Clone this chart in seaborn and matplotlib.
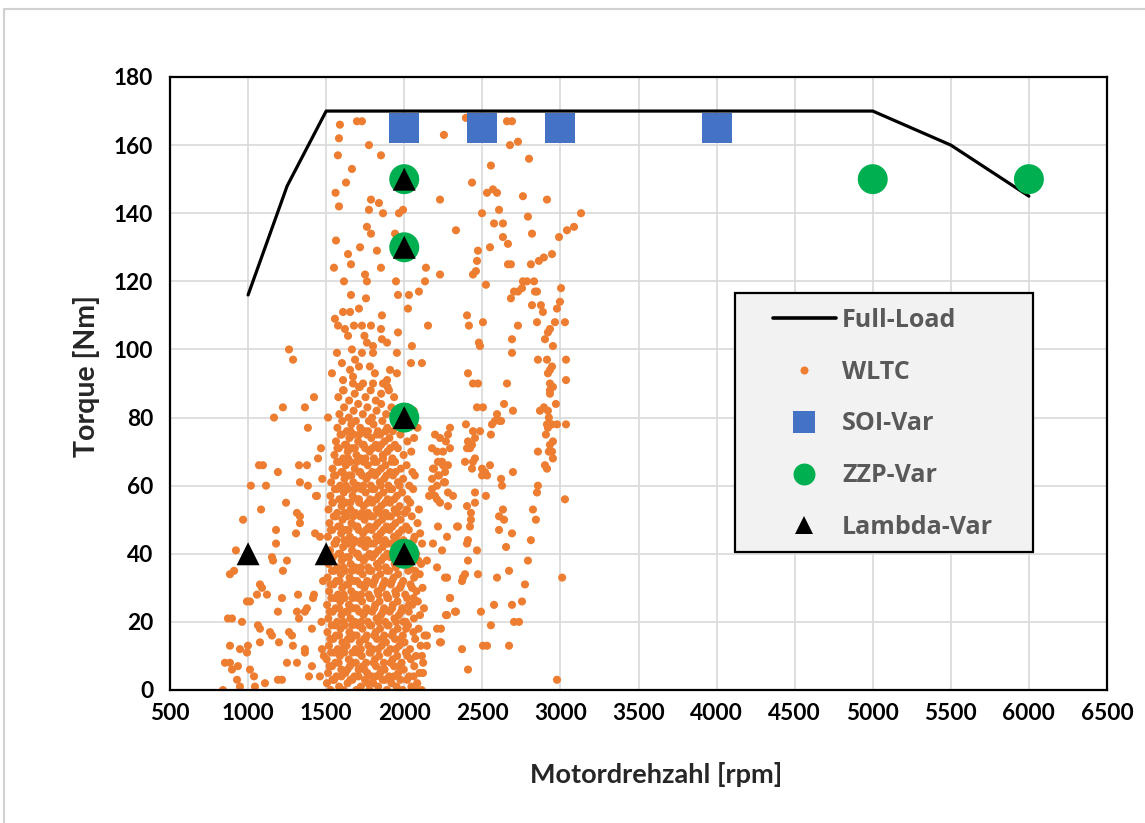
import matplotlib
matplotlib.use("Agg")
import matplotlib.pyplot as plt
from matplotlib.lines import Line2D
from matplotlib.patches import Rectangle
import pandas as pd
import seaborn as sns

# Full-load torque curve
fullload_rpm = [1000, 1250, 1500, 5000, 5500, 6000]
fullload_nm = [116, 148, 170, 170, 160, 145]

# Variation points
soi_rpm = [2000, 2500, 3000, 4000]
soi_nm = [165, 165, 165, 165]
zzp_rpm = [2000, 2000, 2000, 2000, 5000, 6000]
zzp_nm = [150, 130, 80, 40, 150, 150]
lambda_rpm = [2000, 2000, 2000, 2000, 1000, 1500]
lambda_nm = [150, 130, 80, 40, 40, 40]

# WLTC operating points (rpm, Nm), grouped by area of the map
wltc_high = [
    (1588, 166), (1697, 167), (1729, 167), (1582, 162), (1774, 160), (1851, 157),
    (1665, 153), (1627, 149), (1582, 142), (1787, 144), (1774, 141), (1838, 143),
    (1864, 140), (1966, 140), (1992, 141), (2229, 144), (2254, 163), (2331, 135),
    (1563, 132), (1761, 136), (1787, 134), (1717, 130), (1640, 128), (1825, 129),
    (1550, 124), (1659, 125), (1749, 122), (1761, 120), (1851, 124), (1947, 120),
    (2139, 124), (2229, 122), (2133, 120), (2094, 117), (2030, 116), (1960, 116),
    (1659, 116), (1755, 115), (1614, 120), (1941, 134), (1575, 157), (1560, 146),
]

wltc_right = [
    (2395, 168), (2658, 167), (2690, 167), (2728, 161), (2677, 160), (2799, 156),
    (2555, 154), (2434, 149), (2530, 146), (2568, 147), (2594, 146), (2760, 145),
    (2914, 144), (2498, 140), (2607, 141), (2792, 139), (3132, 140), (2575, 137),
    (2632, 137), (2818, 134), (2991, 133), (3042, 135), (3087, 136), (2632, 133),
    (2664, 131), (2472, 129), (2549, 130), (2466, 126), (2664, 125), (2683, 125),
    (2811, 125), (2862, 126), (2894, 127), (2946, 128), (2459, 123), (2440, 122),
    (2523, 119), (2760, 120), (2786, 120), (2831, 120), (2754, 118), (2728, 117),
    (2703, 117), (2683, 115), (2850, 117), (2837, 117), (2818, 113), (3004, 118),
    (2997, 114), (2978, 112), (2875, 113), (2888, 111), (2402, 110), (2414, 107),
    (2504, 108), (2728, 107), (2850, 108), (2965, 108), (3029, 108), (2933, 106),
    (2920, 105), (2901, 103), (2478, 102), (2485, 101), (2690, 103), (2690, 99),
    (2952, 101), (2856, 97), (2914, 97), (2946, 95), (2933, 94), (2920, 93),
    (3036, 97), (3036, 91), (2408, 93), (2440, 90), (2472, 90), (2658, 90),
    (2933, 90), (2952, 89), (2933, 88), (2933, 87), (2466, 83), (2504, 83),
    (2639, 84), (2594, 81), (2613, 79), (2696, 82), (2869, 82), (2894, 83),
    (2920, 82), (2926, 80), (2971, 84), (2914, 78), (2946, 78), (2978, 78),
    (3036, 78), (2907, 75), (2920, 77), (2952, 73), (2933, 72), (2946, 70),
    (2926, 70), (2856, 70), (2952, 68), (2901, 66), (2914, 65), (2293, 77),
    (2395, 78), (2440, 76), (2485, 76), (2453, 74), (2562, 78), (2581, 79),
    (2620, 79), (2555, 75), (2408, 73), (2402, 71), (2434, 72), (2421, 71),
    (2453, 68), (2440, 67), (2389, 67), (2434, 65), (2498, 65), (2517, 64),
    (2549, 66), (2498, 63), (2530, 63), (2696, 64), (2620, 62), (2626, 60),
    (2856, 60), (2850, 58), (3029, 56), (2453, 58), (2523, 57), (2402, 54),
    (2453, 55), (2427, 52), (2427, 50), (2421, 48), (2402, 43), (2408, 44),
    (2344, 48), (2632, 53), (2607, 51), (2639, 50), (2607, 47), (2690, 46),
    (2824, 53), (2843, 50), (2811, 44), (2652, 42), (2466, 41), (2408, 38),
    (2792, 38), (2274, 33), (2376, 33), (2370, 32), (2389, 34), (2472, 34),
    (2594, 33), (2671, 35), (2773, 31), (3011, 33), (2293, 27), (2331, 23),
    (2267, 22), (2491, 23), (2575, 25), (2690, 25), (2754, 26), (2703, 20),
    (2735, 20), (2555, 19), (2504, 13), (2530, 13), (2671, 13), (2370, 12),
    (2408, 6), (2978, 3), (2235, 14), (2235, 18),
]

wltc_mid = [
    (2197, 75), (2229, 74), (2280, 75), (2178, 71), (2210, 70), (2242, 67),
    (2280, 66), (2191, 65), (2223, 63), (2254, 61), (2178, 59), (2197, 57),
    (2229, 55), (2159, 57), (2280, 58), (2152, 107), (2267, 73), (2293, 71),
    (2248, 70), (2216, 67), (2248, 66), (2184, 65), (2216, 63), (2261, 64),
    (2261, 61), (2178, 62), (2210, 60), (2010, 20), (2030, 25), (2050, 30),
    (2070, 35), (2090, 38), (2145, 38), (2210, 36), (2261, 33), (2293, 27),
    (2274, 22), (2325, 23), (2210, 18), (2145, 16), (2145, 13), (2229, 14),
    (2113, 10), (2120, 5), (2082, 0), (2338, 48), (2280, 54), (2210, 56),
    (2312, 57), (2216, 48), (2274, 45), (2184, 43), (2242, 41), (2113, 96),
    (2043, 96), (2049, 101), (2024, 112), (1953, 99), (1960, 105),
]

wltc_left = [
    (1262, 100), (1288, 97), (1422, 86), (1223, 83), (1364, 83), (1166, 80),
    (1383, 77), (1467, 71), (1070, 66), (1095, 66), (1191, 64), (1326, 66),
    (1377, 66), (1448, 68), (1018, 60), (1115, 60), (1332, 61), (1383, 60),
    (1441, 57), (1243, 55), (1083, 53), (968, 50), (1313, 52), (1332, 51),
    (1332, 49), (1435, 57), (1179, 47), (1307, 46), (1429, 46), (1179, 43),
    (922, 41), (1153, 39), (1160, 38), (1249, 38), (884, 34), (910, 35),
    (1223, 35), (1076, 31), (1089, 30), (1121, 28), (1057, 28), (993, 26),
    (1012, 26), (1217, 27), (1320, 28), (1377, 24), (1422, 28), (1313, 23),
    (1326, 21), (1191, 23), (871, 21), (897, 21), (961, 20), (1063, 19),
    (1076, 18), (1140, 17), (1153, 16), (1262, 17), (1281, 16), (1409, 18),
    (884, 13), (948, 12), (999, 13), (993, 11), (1076, 14), (1198, 14),
    (1287, 13), (1364, 11), (852, 8), (884, 8), (897, 6), (935, 7),
    (1012, 6), (1038, 4), (1108, 2), (1191, 3), (1217, 3), (1249, 8),
    (1313, 8), (929, 3), (948, 1), (839, 0), (1044, 1), (1409, 7),
    (1390, 4), (1364, 23), (1416, 27), (1364, 12), (1480, 32), (1473, 12),
    (1460, 4), (1460, 45), (1475, 62), (1485, 10), (1470, 20), (1512, 80),
    (1537, 93),
]

wltc_core_low = [
    (1505, 2), (1528, 0), (1551, 3), (1583, 1), (1612, 0), (1637, 2), (1668, 3),
    (1694, 0), (1722, 1), (1749, 3), (1777, 0), (1801, 2), (1833, 1), (1862, 3),
    (1889, 0), (1918, 2), (1951, 1), (1990, 0), (2018, 3), (2046, 1), (2083, 2),
    (2112, 0),
    (1512, 5), (1538, 7), (1566, 4), (1597, 6), (1623, 5), (1652, 7), (1681, 4),
    (1708, 6), (1736, 7), (1763, 5), (1792, 4), (1819, 7), (1846, 5), (1874, 6),
    (1903, 4), (1934, 7), (1962, 5), (1997, 6), (2031, 4), (2064, 7), (2098, 5),
    (1503, 9), (1531, 11), (1559, 8), (1588, 10), (1616, 11), (1645, 9), (1673, 8),
    (1699, 11), (1728, 10), (1756, 8), (1785, 11), (1812, 9), (1840, 10), (1869, 8),
    (1897, 11), (1926, 9), (1955, 10), (1983, 8), (2010, 11), (2042, 9), (2075, 10),
    (2121, 8),
    (1518, 13), (1546, 15), (1574, 12), (1604, 14), (1631, 13), (1660, 15),
    (1688, 12), (1715, 14), (1743, 15), (1771, 13), (1798, 12), (1826, 15),
    (1855, 13), (1883, 14), (1911, 12), (1940, 15), (1968, 13), (2002, 14),
    (2037, 12), (2070, 15), (2105, 13),
    (1508, 17), (1535, 19), (1563, 16), (1592, 18), (1620, 19), (1649, 17),
    (1677, 16), (1704, 19), (1732, 18), (1760, 16), (1789, 19), (1817, 17),
    (1845, 18), (1872, 16), (1900, 19), (1929, 17), (1958, 18), (1991, 16),
    (2024, 19), (2058, 17), (2092, 18), (2130, 16),
    (1514, 21), (1542, 23), (1570, 20), (1598, 22), (1627, 23), (1655, 21),
    (1684, 20), (1711, 23), (1739, 22), (1767, 20), (1795, 23), (1823, 21),
    (1851, 22), (1879, 20), (1907, 23), (1937, 21), (1966, 22), (1995, 20),
    (2029, 23), (2062, 21), (2101, 22),
    (1506, 25), (1533, 27), (1561, 24), (1590, 26), (1618, 27), (1646, 25),
    (1675, 24), (1702, 27), (1730, 26), (1758, 24), (1786, 27), (1814, 25),
    (1842, 26), (1871, 24), (1898, 27), (1927, 25), (1957, 26), (1987, 24),
    (2019, 27), (2051, 25), (2087, 26), (2126, 24),
    (1519, 29), (1547, 31), (1576, 28), (1603, 30), (1633, 31), (1661, 29),
    (1690, 28), (1717, 31), (1745, 30), (1773, 28), (1801, 31), (1829, 29),
    (1857, 30), (1886, 28), (1914, 31), (1943, 29), (1972, 30), (2006, 28),
    (2040, 31), (2078, 29), (2117, 30),
]

wltc_core_mid = [
    (1509, 33), (1537, 35), (1565, 32), (1594, 34), (1622, 35), (1650, 33),
    (1679, 32), (1706, 35), (1734, 34), (1762, 32), (1790, 35), (1818, 33),
    (1847, 34), (1875, 32), (1903, 35), (1932, 33), (1961, 34), (1993, 32),
    (2026, 35), (2063, 33), (2099, 34),
    (1516, 37), (1544, 39), (1572, 36), (1600, 38), (1629, 39), (1657, 37),
    (1686, 36), (1713, 39), (1741, 38), (1769, 36), (1797, 39), (1825, 37),
    (1853, 38), (1882, 36), (1910, 39), (1939, 37), (1968, 38), (2034, 36),
    (2071, 39), (2108, 37),
    (1525, 41), (1553, 43), (1581, 40), (1609, 42), (1638, 43), (1666, 41),
    (1694, 40), (1722, 43), (1750, 42), (1778, 40), (1806, 43), (1834, 41),
    (1862, 42), (1891, 40), (1919, 43), (1948, 41), (2040, 42), (2076, 40),
    (2114, 43),
    (1511, 45), (1539, 47), (1567, 44), (1596, 46), (1624, 47), (1652, 45),
    (1681, 44), (1708, 47), (1736, 46), (1764, 44), (1792, 47), (1820, 45),
    (1849, 46), (1877, 44), (1905, 47), (1934, 45), (1964, 46), (1995, 44),
    (2029, 47), (2066, 45), (2102, 46),
    (1521, 49), (1549, 51), (1577, 48), (1605, 50), (1634, 51), (1662, 49),
    (1691, 48), (1718, 51), (1746, 50), (1774, 48), (1802, 51), (1830, 49),
    (1858, 50), (1887, 48), (1915, 51), (1944, 49), (1976, 50), (2012, 48),
    (2048, 51), (2085, 49),
    (1515, 53), (1543, 55), (1571, 52), (1599, 54), (1628, 55), (1656, 53),
    (1685, 52), (1712, 55), (1740, 54), (1768, 52), (1796, 55), (1824, 53),
    (1852, 54), (1881, 52), (1909, 55), (1938, 53), (1970, 54), (2003, 52),
    (2038, 55), (2094, 53),
    (1527, 57), (1556, 59), (1584, 56), (1613, 58), (1641, 59), (1669, 57),
    (1698, 56), (1725, 59), (1753, 58), (1781, 56), (1809, 59), (1837, 57),
    (1866, 58), (1894, 56), (1923, 59), (1953, 57), (1986, 58), (2021, 56),
    (2057, 59),
]

wltc_core_high = [
    (1532, 61), (1560, 63), (1589, 60), (1617, 62), (1646, 63), (1674, 61),
    (1702, 60), (1730, 63), (1758, 62), (1786, 60), (1814, 63), (1843, 61),
    (1871, 62), (1899, 60), (1928, 63), (1960, 61), (1993, 62), (2032, 60),
    (2068, 63),
    (1541, 65), (1570, 67), (1598, 64), (1626, 66), (1655, 67), (1683, 65),
    (1711, 64), (1739, 67), (1767, 66), (1795, 64), (1823, 67), (1852, 65),
    (1880, 66), (1909, 64), (1941, 67), (1978, 65), (2015, 66), (2052, 64),
    (1553, 69), (1581, 71), (1609, 68), (1638, 70), (1666, 71), (1694, 69),
    (1723, 68), (1750, 71), (1778, 70), (1806, 68), (1835, 71), (1863, 69),
    (1892, 70), (1924, 68), (1959, 71), (1996, 69), (2045, 70),
    (1563, 73), (1592, 75), (1620, 72), (1649, 74), (1677, 75), (1705, 73),
    (1733, 72), (1761, 75), (1789, 74), (1818, 72), (1846, 75), (1874, 73),
    (1905, 74), (1940, 72), (1975, 75), (2020, 73), (2063, 74),
    (1572, 77), (1603, 79), (1633, 76), (1661, 78), (1690, 79), (1718, 77),
    (1746, 76), (1774, 79), (1803, 78), (1831, 76), (1860, 79), (1891, 77),
    (1927, 76), (2042, 78), (2085, 77),
    (1585, 81), (1615, 83), (1645, 80), (1676, 82), (1705, 84), (1735, 81),
    (1764, 83), (1794, 80), (1823, 82), (1852, 84), (1884, 81), (1918, 83),
    (2060, 82),
    (1578, 86), (1612, 88), (1647, 85), (1683, 87), (1716, 89), (1752, 86),
    (1785, 88), (1818, 85), (1852, 87), (1893, 89), (1935, 86),
    (1601, 96), (1653, 94), (1665, 100), (1685, 97), (1710, 95), (1780, 95),
    (1812, 93), (1909, 94), (1953, 93), (1672, 92), (1608, 91), (1608, 88),
    (1672, 90), (1710, 89), (1736, 90), (1800, 90), (1864, 90), (1902, 88),
    (1890, 91), (1890, 102), (1800, 99), (1800, 101), (1569, 99), (1729, 99),
    (1761, 102), (1857, 103), (1556, 109), (1576, 107), (1608, 111),
    (1653, 111), (1710, 112), (1678, 107), (1729, 107), (1787, 107),
    (1857, 110), (1851, 106), (1620, 106), (1640, 104), (1745, 104),
]

# in-between points of the densest part of the cycle
wltc_core_fill = [
    (1540, 3), (1598, 4), (1655, 3), (1707, 4), (1766, 2), (1820, 4), (1877, 3),
    (1935, 4), (1975, 3), (2060, 4),
    (1522, 7), (1580, 8), (1636, 6), (1690, 8), (1745, 6), (1804, 8), (1858, 6),
    (1913, 8), (1970, 7),
    (1553, 11), (1612, 12), (1668, 11), (1722, 12), (1778, 11), (1833, 12),
    (1890, 11), (1946, 12), (2020, 10),
    (1527, 15), (1583, 16), (1640, 15), (1695, 16), (1752, 15), (1808, 16),
    (1864, 15), (1921, 16), (1978, 15),
    (1556, 19), (1611, 20), (1667, 19), (1724, 20), (1780, 19), (1836, 20),
    (1892, 19), (1948, 20), (2012, 18),
    (1523, 23), (1584, 24), (1638, 23), (1695, 24), (1752, 23), (1808, 24),
    (1864, 23), (1922, 24), (1980, 23),
    (1556, 27), (1612, 28), (1668, 27), (1724, 28), (1780, 27), (1836, 28),
    (1892, 27), (1948, 28), (2060, 27),
    (1528, 31), (1586, 32), (1642, 31), (1698, 32), (1754, 31), (1810, 32),
    (1866, 31), (1922, 32), (1982, 31),
    (1552, 35), (1610, 36), (1666, 35), (1722, 36), (1778, 35), (1834, 36),
    (1890, 35), (1946, 36),
    (1532, 39), (1590, 40), (1646, 39), (1702, 40), (1758, 39), (1814, 40),
    (1870, 39), (1926, 40),
    (1560, 43), (1616, 44), (1672, 43), (1728, 44), (1784, 43), (1840, 44),
    (1896, 43), (1952, 44), (2060, 44),
    (1530, 47), (1588, 48), (1644, 47), (1700, 48), (1756, 47), (1812, 48),
    (1868, 47), (1924, 48), (1986, 47),
    (1562, 51), (1618, 52), (1674, 51), (1730, 52), (1786, 51), (1842, 52),
    (1898, 51), (1956, 52),
    (1540, 55), (1598, 56), (1654, 55), (1710, 56), (1766, 55), (1822, 56),
    (1878, 55), (1935, 56), (2018, 53),
    (1570, 59), (1626, 60), (1682, 59), (1738, 60), (1794, 59), (1850, 60),
    (1906, 59), (1970, 60),
    (1550, 63), (1606, 64), (1662, 63), (1718, 64), (1774, 63), (1830, 64),
    (1886, 63), (1945, 64),
    (1585, 67), (1640, 68), (1696, 67), (1752, 68), (1808, 67), (1864, 68),
    (1920, 67),
    (1572, 71), (1628, 72), (1684, 71), (1740, 72), (1796, 71), (1852, 72),
    (1910, 71),
    (1600, 75), (1656, 76), (1712, 75), (1768, 76), (1824, 75), (1880, 76),
]

wltc = pd.DataFrame(
    wltc_high + wltc_right + wltc_mid + wltc_left
    + wltc_core_low + wltc_core_mid + wltc_core_high + wltc_core_fill,
    columns=["rpm", "nm"],
)
fullload = pd.DataFrame({"rpm": fullload_rpm, "nm": fullload_nm})
soi = pd.DataFrame({"rpm": soi_rpm, "nm": soi_nm})
zzp = pd.DataFrame({"rpm": zzp_rpm, "nm": zzp_nm})
lam = pd.DataFrame({"rpm": lambda_rpm, "nm": lambda_nm})

ORANGE = "#ED7D31"
BLUE = "#4472C4"
GREEN = "#00B050"
GRID = "#D9D9D9"
LEGEND_TEXT = "#595959"
AXIS_FONT = ["Lato", "DejaVu Sans"]

sns.set_style("white")
plt.rcParams["font.family"] = AXIS_FONT

fig = plt.figure(figsize=(11.45, 8.23), dpi=100)
ax = fig.add_axes([170 / 1145, 1 - 690 / 823, 937 / 1145, 613 / 823])

# chart-area border
fig.add_artist(Line2D([4 / 1145, 1], [1 - 9 / 823, 1 - 9 / 823],
                      transform=fig.transFigure, color="#D0D0D0", lw=1.5))
fig.add_artist(Line2D([4 / 1145, 4 / 1145], [0, 1 - 9 / 823],
                      transform=fig.transFigure, color="#D0D0D0", lw=1.5))

sns.lineplot(data=fullload, x="rpm", y="nm", sort=False, color="black",
             lw=2.3, ax=ax, zorder=3, legend=False)
sns.scatterplot(data=wltc, x="rpm", y="nm", color=ORANGE, s=34,
                edgecolor="none", ax=ax, zorder=2, legend=False)
sns.scatterplot(data=soi, x="rpm", y="nm", color=BLUE, marker="s", s=466,
                edgecolor="none", ax=ax, zorder=4, legend=False)
sns.scatterplot(data=zzp, x="rpm", y="nm", color=GREEN, marker="o", s=466,
                edgecolor="none", ax=ax, zorder=5, legend=False)
sns.scatterplot(data=lam, x="rpm", y="nm", color="black", marker="^", s=274,
                edgecolor="none", ax=ax, zorder=6, legend=False)

ax.set_xlim(500, 6500)
ax.set_ylim(0, 180)
ax.set_xticks(range(500, 6501, 500))
ax.set_yticks(range(0, 181, 20))
ax.grid(True, color=GRID, lw=1.2, zorder=0)
ax.set_axisbelow(True)
for sp in ax.spines.values():
    sp.set_color("black")
    sp.set_linewidth(1.6)
    sp.set_zorder(7)

ax.tick_params(axis="both", length=0, colors="black")
ax.tick_params(axis="x", pad=9)
ax.tick_params(axis="y", pad=12)
for lab in ax.get_xticklabels() + ax.get_yticklabels():
    lab.set_fontfamily(AXIS_FONT)
    lab.set_fontweight("bold")
    lab.set_fontsize(16.3)

ax.set_xlabel("Motordrehzahl [rpm]", fontsize=19.5, fontweight="bold",
              family=AXIS_FONT)
ax.set_ylabel("Torque [Nm]", fontsize=20.5, fontweight="bold",
              family=AXIS_FONT)
ax.xaxis.set_label_coords(0.519, -0.117)
ax.yaxis.set_label_coords(-0.075, 0.512)

# legend panel
ax.add_patch(Rectangle((0.603, 0.2251), 0.318, 0.4225, transform=ax.transAxes,
                       facecolor="#F2F2F2", edgecolor="black", lw=1.6,
                       zorder=8, clip_on=False))
handles = [
    Line2D([], [], color="black", lw=2.6),
    Line2D([], [], ls="", marker="o", color=ORANGE, markersize=5.8,
           markeredgewidth=0),
    Line2D([], [], ls="", marker="s", color=BLUE, markersize=15.6,
           markeredgewidth=0),
    Line2D([], [], ls="", marker="o", color=GREEN, markersize=15.8,
           markeredgewidth=0),
    Line2D([], [], ls="", marker="^", color="black", markersize=12.5,
           markeredgewidth=0),
]
labels = ["Full-Load", "WLTC", "SOI-Var", "ZZP-Var", "Lambda-Var"]
leg = ax.legend(handles, labels, loc="upper left",
                bbox_to_anchor=((773 - 170) / 937, (690 - 308) / 613),
                frameon=False, borderpad=0, borderaxespad=0,
                handlelength=2.5, handletextpad=0.27, labelspacing=1.07,
                prop=dict(family=["Open Sans", "DejaVu Sans"], weight="bold",
                          size=18))
leg.set_zorder(9)
for t in leg.get_texts():
    t.set_color(LEGEND_TEXT)

fig.savefig("out.png", dpi=100, facecolor="white")
